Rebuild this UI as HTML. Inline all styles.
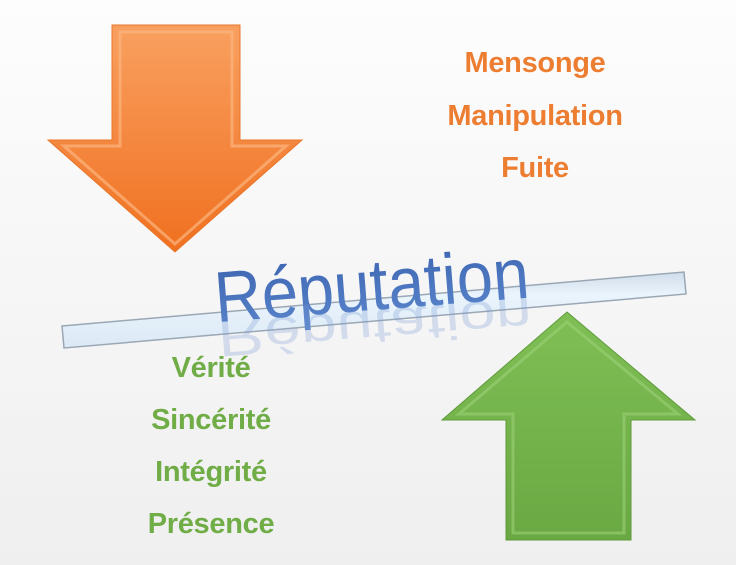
<!DOCTYPE html>
<html><head><meta charset="utf-8"><style>
html,body{margin:0;padding:0;}
body{width:736px;height:565px;overflow:hidden;background:linear-gradient(#fdfdfd,#efefef);position:relative;font-family:"Liberation Sans",sans-serif;}
.t{position:absolute;font-weight:bold;font-size:29px;text-align:center;width:300px;line-height:30px;letter-spacing:-0.3px;}
.o{color:#ed7d31;left:385px;}
.g{color:#70ad47;left:61px;}
</style></head><body>
<svg width="736" height="565" style="position:absolute;left:0;top:0">
<defs>
<linearGradient id="og" x1="0" y1="0" x2="0" y2="1"><stop offset="0" stop-color="#f9a060"/><stop offset="1" stop-color="#f07020"/></linearGradient>
<linearGradient id="gg" x1="0" y1="0" x2="0" y2="1"><stop offset="0" stop-color="#7fbf55"/><stop offset="1" stop-color="#6aa843"/></linearGradient>
<linearGradient id="bar" x1="0" y1="0" x2="0" y2="1"><stop offset="0" stop-color="#cfdcea"/><stop offset="0.3" stop-color="#eaf4fc"/><stop offset="1" stop-color="#dce9f5"/></linearGradient>
<linearGradient id="txt" x1="0" y1="0" x2="0" y2="1"><stop offset="0" stop-color="#3c63b0"/><stop offset="1" stop-color="#5a86cc"/></linearGradient>
</defs>
<polygon points="112,25 240,25 240,140 302,140 175,252 48,140 112,140" fill="url(#og)" stroke="#e8762a" stroke-width="1"/>
<polygon points="120,32 232,32 232,146 286,146 175,244 64,146 120,146" fill="none" stroke="#fbb57f" stroke-width="3" opacity="0.7"/>
<polygon points="567,312 695,420 631,420 631,540 506,540 506,420 442,420" fill="url(#gg)" stroke="#5e9a3a" stroke-width="1"/>
<polygon points="567,322 678,414 624,414 624,533 513,533 513,414 459,414" fill="none" stroke="#9bd176" stroke-width="3" opacity="0.6"/>
<polygon points="62,326 684,272 686,294 64,348" fill="url(#bar)" stroke="#9aa7b5" stroke-width="1.5"/>
<g transform="rotate(-4.5 372 290)">
<text x="372" y="310" text-anchor="middle" font-family="Liberation Sans, sans-serif" font-size="72" fill="url(#txt)" textLength="315" lengthAdjust="spacingAndGlyphs">Réputation</text>
<g transform="translate(0,527) scale(1,-0.7)"><text x="372" y="310" text-anchor="middle" font-family="Liberation Sans, sans-serif" font-size="72" fill="#7a9bd4" opacity="0.28" textLength="315" lengthAdjust="spacingAndGlyphs">Réputation</text></g>
</g>
</svg>
<div class="t o" style="top:48px">Mensonge</div>
<div class="t o" style="top:101px">Manipulation</div>
<div class="t o" style="top:153px">Fuite</div>
<div class="t g" style="top:353px">Vérité</div>
<div class="t g" style="top:405px">Sincérité</div>
<div class="t g" style="top:457px">Intégrité</div>
<div class="t g" style="top:509px">Présence</div>
</body></html>
